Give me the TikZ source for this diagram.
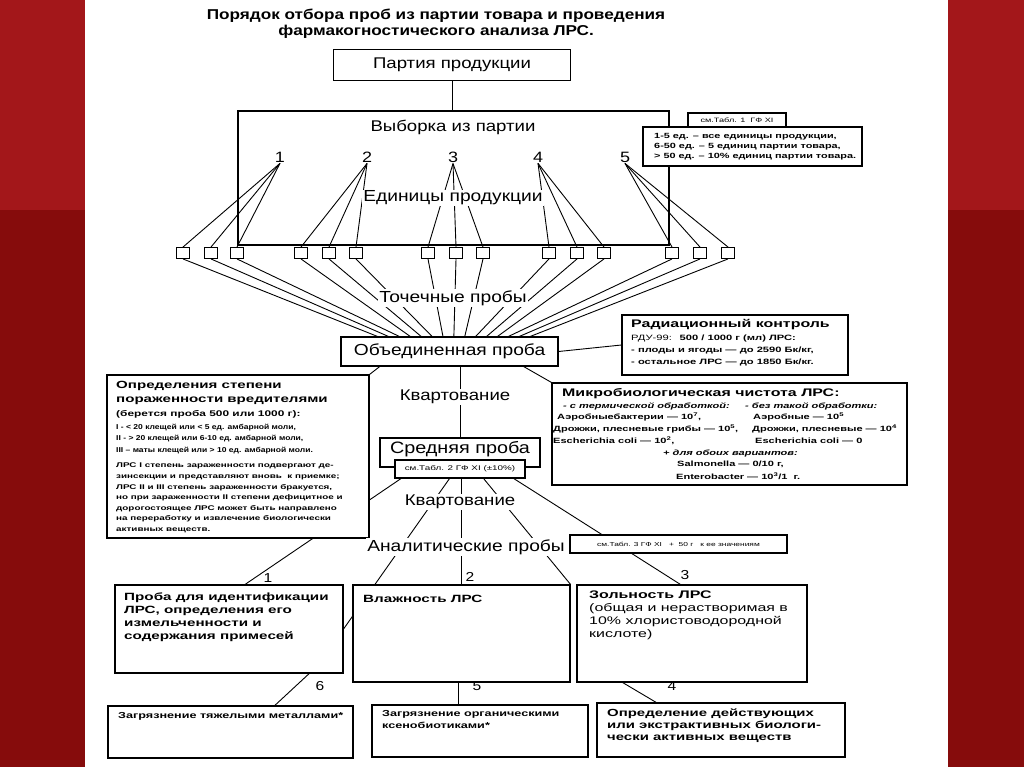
\documentclass[tikz,border=0pt]{standalone}
\usepackage{fontspec}
\setmainfont{Liberation Sans}[FakeStretch=1.2]
\newfontfamily\wide{Liberation Sans}[FakeStretch=1.45]
\usetikzlibrary{calc}
\newcommand{\fsz}[2]{\fontsize{#1}{#2}\selectfont}
\pgfdeclarelayer{paper}
\pgfdeclarelayer{wires}
\pgfsetlayers{paper,wires,main}
\definecolor{slide}{HTML}{860C0C}
\definecolor{slidetop}{HTML}{A3171A}

\tikzset{
  frame/.style={draw, fill=white, line width=1.1pt, inner sep=0pt},
  pbox/.style={draw, fill=white, line width=0.9pt, minimum width=13pt, minimum height=11pt, inner sep=0pt},
  lbl/.style={fill=white, inner sep=1pt},
  num/.style={inner sep=1pt, font=\fsz{15}{15}},
  txt/.style={inner sep=0pt, align=left, anchor=north west},
  row/.style={inner sep=0pt, anchor=west},
  wire/.style={line width=0.9pt},
}

\begin{document}
\begin{tikzpicture}[x=1pt,y=-1pt]
\useasboundingbox (0,0) rectangle (1024,767);
\begin{pgfonlayer}{paper}
\fill[slide] (0,0) rectangle (1024,767);
\fill[slidetop] (0,0) rectangle (1024,210);
\fill[white] (85,0) rectangle (948,767);
\end{pgfonlayer}

% title and top part
\node[font=\bfseries\fsz{14.3}{16}, align=center] (title) at (436,24) {Порядок отбора проб из партии товара и проведения\\фармакогностического анализа ЛРС.};
\node[frame, minimum width=237pt, minimum height=31pt, font=\fsz{15.5}{16}] (part) at (452,65) {Партия продукции};
\node[frame, fill=none, minimum width=431pt, minimum height=134pt] (vyb) at (453.5,178) {};
\node[font=\fsz{15.5}{16}] (vybt) at (453,127) {Выборка из партии};
\foreach \x [count=\k] in {280,367,453,538,625}
  \node[num] (n\k) at (\x,157) {\k};
\node[lbl, font=\fsz{16}{16}] (edp) at (453,198) {Единицы продукции};
\foreach \x [count=\m] in {183,211,237,301,329,356,428,456,483,549,577,604,672,700,728}
  \node[pbox] (p\m) at (\x,253) {};
\node[lbl, font=\fsz{16}{16}] (tp) at (453,298) {Точечные пробы};

% table 1 notes
\node[frame, minimum width=98pt, minimum height=14pt, font=\wide\fsz{6.3}{7}] (t1) at (737,120) {см.Табл. 1 \ ГФ XI};
\node[frame, minimum width=219pt, minimum height=39pt] (t1d) at (752.5,146.5) {};
\node[inner sep=0pt, align=left, anchor=west, font=\wide\bfseries\fsz{7.5}{10}] (t1dt) at (654,146.5) {1-5 ед. – все единицы продукции,\\6-50 ед. – 5 единиц партии товара,\\> 50 ед. – 10\% единиц партии товара.};

% pooled sample
\node[frame, minimum width=217pt, minimum height=29pt, font=\fsz{16}{16}] (obp) at (449.5,351.5) {Объединенная проба};
\node[frame, minimum width=226pt, minimum height=60pt] (rad) at (735,345) {};
\node[row, font=\wide\bfseries\fsz{11}{12}] (radh) at (631,325) {Радиационный контроль};
\node[txt, font=\wide\bfseries\fsz{7.7}{12}] (radb) at (631,335) {{\mdseries РДУ-99:}\quad 500 / 1000 г (мл) ЛРС:\\- плоды и ягоды — до 2590 Бк/кг,\\- остальное ЛРС — до 1850 Бк/кг.};

% pests
\node[frame, minimum width=262pt, minimum height=163pt] (pest) at (238,456.5) {};
\node[txt, font=\wide\bfseries\fsz{10.4}{14}] (pesth) at (116,381) {Определения степени\\пораженности вредителями};
\node[row, font=\wide\bfseries\fsz{8.2}{10}] (pestb) at (116,414) {(берется проба 500 или 1000 г):};
\node[txt, font=\bfseries\fsz{7.1}{11.5}] (pestl) at (116,424) {I - < 20 клещей или < 5 ед. амбарной моли,\\II - > 20 клещей или 6-10 ед. амбарной моли,\\III – маты клещей или > 10 ед. амбарной моли.};
\node[txt, font=\wide\bfseries\fsz{6.8}{10.6}] (pestp) at (116,463) {ЛРС I степень зараженности подвергают де-\\зинсекции и представляют вновь \ к приемке;\\ЛРС II и III степень зараженности бракуется,\\но при зараженности II степени дефицитное и\\дорогостоящее ЛРС может быть направлено\\на переработку и извлечение биологически\\активных веществ.};

% microbiology
\node[frame, minimum width=355pt, minimum height=102pt] (micro) at (729.5,434) {};
\node[row, font=\wide\bfseries\fsz{11}{11}] (m0) at (562,394) {Микробиологическая чистота ЛРС:};
\begin{scope}[every node/.style={row, font=\wide\bfseries\fsz{7.6}{9}}]
\node[font=\wide\bfseries\itshape\fsz{7.6}{9}] (m1) at (563,406) {- с термической обработкой:};
\node[font=\wide\bfseries\itshape\fsz{7.6}{9}] (m1r) at (745,406) {- без такой обработки:};
\node (m2) at (557,417) {Аэробныебактерии — 10\textsuperscript{7},};
\node (m2r) at (753,417) {Аэробные — 10\textsuperscript{5}};
\node (m3) at (553,429) {Дрожжи, плесневые грибы — 10\textsuperscript{5},};
\node (m3r) at (752,429) {Дрожжи, плесневые — 10\textsuperscript{4}};
\node (m4) at (553,441) {Escherichia coli — 10\textsuperscript{2},};
\node (m4r) at (755,441) {Escherichia coli — 0};
\node[font=\wide\bfseries\itshape\fsz{7.6}{9}] (m5) at (663,453) {+ для обоих вариантов:};
\node (m6) at (677,464) {Salmonella — 0/10 г,};
\node (m7) at (676,476) {Enterobacter — 10\textsuperscript{3}/1 \ г.};
\end{scope}

% average sample
\node[lbl, font=\fsz{15.5}{16}] (kv1) at (455,397) {Квартование};
\node[frame, minimum width=160pt, minimum height=29pt] (srd) at (460,452.5) {};
\node[font=\fsz{16.5}{17}] (srdx) at (460,449) {Средняя проба};
\node[frame, minimum width=130pt, minimum height=18pt, font=\wide\fsz{6.8}{8}] (srdt) at (460,469) {см.Табл. 2 ГФ XI (±10\%)};
\node[lbl, font=\fsz{15.5}{16}] (kv2) at (460,502) {Квартование};
\node[lbl, font=\fsz{16}{16}] (an) at (466,547) {Аналитические пробы};
\node[frame, minimum width=217pt, minimum height=18pt, font=\wide\fsz{5.8}{7}] (t3) at (678.5,544) {см.Табл. 3 ГФ XI \ \ + \ 50 г \ \ к ее значениям};

% analytical samples
\node[frame, minimum width=228pt, minimum height=88pt] (b1) at (229,629) {};
\node[txt, font=\wide\bfseries\fsz{10.5}{13}] (b1t) at (124,593) {Проба для идентификации\\ЛРС, определения его\\измельченности и\\содержания примесей};
\node[frame, minimum width=217pt, minimum height=97pt] (b2) at (461.5,633.5) {};
\node[row, font=\wide\bfseries\fsz{10.5}{11.5}] (b2t) at (363,599) {Влажность ЛРС};
\node[frame, minimum width=230pt, minimum height=97pt] (b3) at (692,633.5) {};
\node[txt, font=\wide\fsz{11}{13}] (b3t) at (589,591) {\textbf{Зольность ЛРС}\\(общая и нерастворимая в\\10\% хлористоводородной\\кислоте)};
\node[frame, minimum width=245pt, minimum height=52pt] (b6) at (230.5,732) {};
\node[row, font=\wide\bfseries\fsz{8.7}{11}] (b6t) at (118,716) {Загрязнение тяжелыми металлами*};
\node[frame, minimum width=216pt, minimum height=52pt] (b5) at (480,731) {};
\node[txt, font=\wide\bfseries\fsz{8.7}{12}] (b5t) at (382,710) {Загрязнение органическими\\ксенобиотиками*};
\node[frame, minimum width=248pt, minimum height=54pt] (b4) at (721,730) {};
\node[txt, font=\wide\bfseries\fsz{10.3}{12}] (b4t) at (607,709) {Определение действующих\\или экстрактивных биологи-\\чески активных веществ};

\begin{scope}[every node/.style={font=\fsz{13}{13}, inner sep=1pt}]
\node (l1) at (268,578) {1};
\node (l2) at (470,577) {2};
\node (l3) at (685,575) {3};
\node (l6) at (320,686) {6};
\node (l5) at (477,686) {5};
\node (l4) at (672,686) {4};
\end{scope}

% connectors
\begin{pgfonlayer}{wires}
\draw[wire] (part.south) -- (part.south |- vyb.north);
\foreach \k in {1,...,5}
  \foreach \j in {1,2,3}{
    \pgfmathtruncatemacro{\m}{3*(\k-1)+\j}
    \draw[wire] (n\k.south) -- (p\m.north);
  }
\foreach \m in {1,...,15}{
  \pgfmathsetmacro{\f}{0.17+0.05*(\m-1)}
  \draw[wire] (p\m.south) -- ($(obp.north west)!\f!(obp.north east)$);
}
\draw[wire] (obp.east) -- (rad.west);
\draw[wire] ($(obp.south west)!0.84!(obp.south east)$) -- (micro.north west);
\draw[wire] (pest.north east) -- ($(obp.south west)!0.18!(obp.south east)$);
\draw[wire] (srd.north) -- (srd.north |- obp.south);
\draw[wire] ($(srdt.south west)!0.05!(srdt.south east)$) -- ($(b1.north west)!0.57!(b1.north east)$);
\draw[wire] ($(srdt.south west)!0.42!(srdt.south east)$) -- (b1.east);
\draw[wire] (b2.north |- srdt.south) -- (b2.north);
\draw[wire] ($(srdt.south west)!0.68!(srdt.south east)$) -- (b2.north east);
\draw[wire] ($(srdt.south west)!0.91!(srdt.south east)$) -- ($(b3.north west)!0.45!(b3.north east)$);
\draw[wire] ($(b1.south west)!0.85!(b1.south east)$) -- ($(b6.north west)!0.68!(b6.north east)$);
\coordinate (c5) at ($(b5.north west)!0.4!(b5.north east)$);
\draw[wire] (c5) -- (c5 |- b2.south);
\draw[wire] ($(b3.south west)!0.2!(b3.south east)$) -- ($(b4.north west)!0.24!(b4.north east)$);
\end{pgfonlayer}
\end{tikzpicture}
\end{document}
